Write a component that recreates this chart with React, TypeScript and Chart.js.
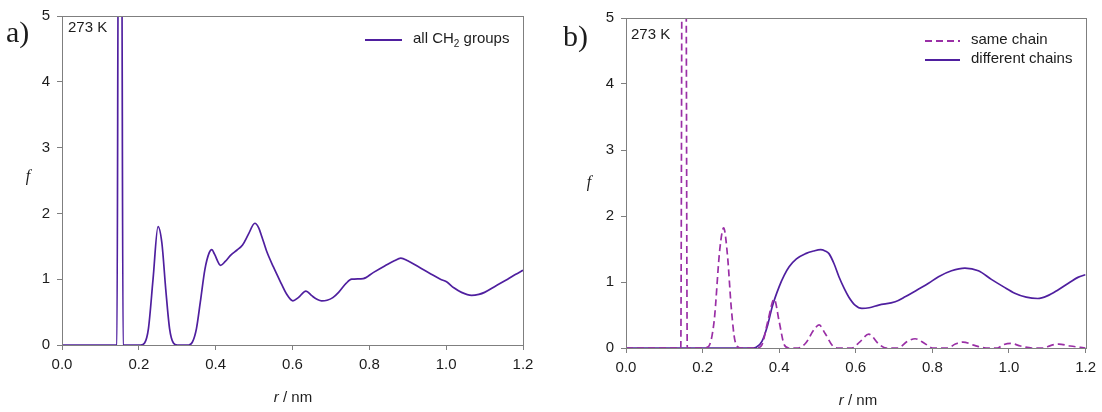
import React, { useEffect, useRef } from "react";
import { Chart, registerables } from "chart.js";

Chart.register(...registerables);

// ---- data -------------------------------------------------------------
// Panel a: all CH2 groups
const rAll = [
  0, 0.143, 0.147, 0.155, 0.159, 0.205, 0.215, 0.225, 0.237, 0.25, 0.26, 0.27, 0.28, 0.29, 0.3,
  0.33, 0.34, 0.35, 0.36, 0.372, 0.383, 0.39, 0.397, 0.413, 0.425, 0.44, 0.455, 0.47, 0.485,
  0.502, 0.512, 0.52, 0.533, 0.55, 0.567, 0.585, 0.601, 0.615, 0.635, 0.65, 0.665, 0.676, 0.69,
  0.705, 0.72, 0.74, 0.754, 0.784, 0.81, 0.84, 0.865, 0.882, 0.9, 0.93, 0.96, 0.985, 1.001,
  1.02, 1.04, 1.066, 1.085, 1.1, 1.13, 1.16, 1.18, 1.2,
];
const fAll = [
  0, 0, 7, 7, 0, 0, 0.03, 0.25, 1.0, 1.8, 1.55, 0.85, 0.25, 0.03, 0,
  0, 0.05, 0.25, 0.65, 1.15, 1.4, 1.45, 1.38, 1.21, 1.27, 1.37, 1.44, 1.52, 1.68,
  1.85, 1.78, 1.65, 1.42, 1.19, 0.98, 0.77, 0.67, 0.72, 0.82, 0.75, 0.69, 0.67, 0.68,
  0.72, 0.8, 0.94, 1.0, 1.01, 1.1, 1.2, 1.28, 1.32, 1.28, 1.18, 1.08, 1.0, 0.96,
  0.87, 0.8, 0.755, 0.77, 0.8, 0.9, 1.0, 1.07, 1.135,
];

// Panel b: pairs on the same chain
const rSame = [
  0, 0.143, 0.147, 0.156, 0.16, 0.2, 0.215, 0.23, 0.245, 0.255, 0.265, 0.275, 0.285, 0.3,
  0.34, 0.355, 0.37, 0.387, 0.4, 0.413, 0.425, 0.45, 0.47, 0.49, 0.504, 0.52, 0.54, 0.555,
  0.59, 0.61, 0.634, 0.66, 0.68, 0.71, 0.735, 0.755, 0.78, 0.8, 0.84, 0.86, 0.88, 0.91, 0.94,
  0.97, 0.985, 1.005, 1.03, 1.06, 1.09, 1.11, 1.13, 1.16, 1.2,
];
const fSame = [
  0, 0, 7, 7, 0, 0, 0.02, 0.4, 1.5, 1.82, 1.4, 0.6, 0.1, 0,
  0, 0.05, 0.4, 0.74, 0.4, 0.05, 0, 0, 0.08, 0.27, 0.35, 0.22, 0.03, 0,
  0, 0.09, 0.21, 0.06, 0, 0, 0.1, 0.14, 0.07, 0, 0, 0.06, 0.09, 0.04, 0,
  0, 0.05, 0.07, 0.03, 0, 0, 0.04, 0.06, 0.03, 0,
];

// Panel b: pairs on different chains
const rDiff = [
  0, 0.33, 0.34, 0.355, 0.37, 0.382, 0.4, 0.413, 0.426, 0.445, 0.469, 0.49, 0.508, 0.52, 0.53,
  0.543, 0.556, 0.57, 0.582, 0.598, 0.616, 0.635, 0.66, 0.703, 0.73, 0.76, 0.79, 0.816, 0.85,
  0.885, 0.92, 0.954, 0.985, 1.015, 1.045, 1.075, 1.1, 1.128, 1.16, 1.18, 1.2,
];
const fDiff = [
  0, 0, 0.01, 0.1, 0.35, 0.63, 0.93, 1.1, 1.23, 1.35, 1.43, 1.47, 1.49, 1.47, 1.43,
  1.28, 1.08, 0.9, 0.77, 0.65, 0.6, 0.61, 0.65, 0.7, 0.78, 0.88, 0.98, 1.08, 1.17,
  1.21, 1.17, 1.04, 0.93, 0.83, 0.77, 0.75, 0.79, 0.88, 1.0, 1.07, 1.11,
];

const xTickValues = [0, 0.2, 0.4, 0.6, 0.8, 1.0, 1.2];
const yTickValues = [0, 1, 2, 3, 4, 5];

// ---- styling ----------------------------------------------------------
const SOLID = "#4f1f9f";
const DASHED = "#9a2fa6";
const AXIS = "#7f7f7f";
const TEXT = "#1c1c1c";
const SANS = '"Liberation Sans", Arial, sans-serif';
const SERIF = '"Liberation Serif", "Times New Roman", serif';

const toPoints = (xs: number[], ys: number[]) => xs.map((x, i) => ({ x, y: ys[i] }));

type LegendItem = { text: string; sub?: string; tail?: string; color: string; dash: number[] };

type PanelSpec = {
  width: number;
  area: { left: number; right: number; top: number; bottom: number };
  datasets: any[];
  tag: string;
  tagPos: [number, number];
  tempPos: [number, number];
  legend: LegendItem[];
  legendPos: [number, number, number]; // line start x, line end x, first row y
  fPos: [number, number];
  rPos: [number, number];
};

function decorPlugin(spec: PanelSpec) {
  return {
    id: "decor",
    afterDraw(chart: any) {
      const ctx: CanvasRenderingContext2D = chart.ctx;
      const a = chart.chartArea;
      ctx.save();
      // frame around the plot area
      ctx.strokeStyle = AXIS;
      ctx.lineWidth = 1;
      ctx.strokeRect(Math.round(a.left) + 0.5, Math.round(a.top) + 0.5, Math.round(a.right - a.left), Math.round(a.bottom - a.top));

      ctx.fillStyle = TEXT;
      ctx.textBaseline = "alphabetic";
      // panel tag
      ctx.font = `30px ${SERIF}`;
      ctx.textAlign = "left";
      ctx.fillText(spec.tag, spec.tagPos[0], spec.tagPos[1]);

      // temperature label
      ctx.font = `15px ${SANS}`;
      ctx.textBaseline = "middle";
      ctx.fillText("273 K", spec.tempPos[0], spec.tempPos[1]);

      // axis titles
      ctx.font = `italic 16px ${SERIF}`;
      ctx.textAlign = "center";
      ctx.fillText("f", spec.fPos[0], spec.fPos[1]);

      ctx.font = `italic 15px ${SANS}`;
      const rW = ctx.measureText("r").width;
      ctx.font = `15px ${SANS}`;
      const restW = ctx.measureText(" / nm").width;
      const x0 = spec.rPos[0] - (rW + restW) / 2;
      ctx.textAlign = "left";
      ctx.font = `italic 15px ${SANS}`;
      ctx.fillText("r", x0, spec.rPos[1]);
      ctx.font = `15px ${SANS}`;
      ctx.fillText(" / nm", x0 + rW, spec.rPos[1]);

      // legend
      const [lx0, lx1, ly] = spec.legendPos;
      spec.legend.forEach((it, i) => {
        const y = ly + i * 19;
        ctx.strokeStyle = it.color;
        ctx.lineWidth = 1.8;
        ctx.setLineDash(it.dash);
        ctx.beginPath();
        ctx.moveTo(lx0, y);
        ctx.lineTo(lx1, y);
        ctx.stroke();
        ctx.setLineDash([]);
        ctx.fillStyle = TEXT;
        ctx.font = `15px ${SANS}`;
        ctx.textAlign = "left";
        ctx.textBaseline = "middle";
        let tx = lx1 + 11;
        ctx.fillText(it.text, tx, y - 1);
        tx += ctx.measureText(it.text).width;
        if (it.sub) {
          ctx.font = `10px ${SANS}`;
          ctx.fillText(it.sub, tx, y + 4);
          tx += ctx.measureText(it.sub).width;
          ctx.font = `15px ${SANS}`;
        }
        if (it.tail) ctx.fillText(it.tail, tx, y - 1);
      });
      ctx.restore();
    },
  };
}

function buildConfig(spec: PanelSpec): any {
  const { area, width } = spec;
  const height = 412;
  const gridOpts = {
    display: true,
    drawOnChartArea: false,
    drawTicks: true,
    tickLength: 5,
    color: AXIS,
    lineWidth: 1,
  };
  const tickFont = { family: SANS, size: 15 };
  return {
    type: "line",
    data: { datasets: spec.datasets },
    options: {
      animation: false,
      responsive: false,
      devicePixelRatio: 1,
      layout: { padding: { left: 0, top: area.top, right: width - area.right, bottom: 0 } },
      plugins: { legend: { display: false }, tooltip: { enabled: false } },
      elements: { point: { radius: 0 } },
      scales: {
        x: {
          type: "linear",
          min: 0,
          max: 1.2,
          afterBuildTicks: (s: any) => {
            s.ticks = xTickValues.map((v) => ({ value: v }));
          },
          afterFit: (s: any) => {
            s.height = height - area.bottom;
          },
          ticks: {
            color: TEXT,
            font: tickFont,
            padding: 6,
            maxRotation: 0,
            autoSkip: false,
            callback: (v: any) => Number(v).toFixed(1),
          },
          grid: gridOpts,
          border: { display: true, color: AXIS, width: 1 },
        },
        y: {
          type: "linear",
          min: 0,
          max: 5,
          afterBuildTicks: (s: any) => {
            s.ticks = yTickValues.map((v) => ({ value: v }));
          },
          afterFit: (s: any) => {
            s.width = area.left;
          },
          ticks: { color: TEXT, font: tickFont, padding: 7, autoSkip: false },
          grid: gridOpts,
          border: { display: true, color: AXIS, width: 1 },
        },
      },
    },
    plugins: [decorPlugin(spec)],
  };
}

const lineStyle = {
  borderWidth: 1.7,
  pointRadius: 0,
  cubicInterpolationMode: "monotone",
  fill: false,
};

const panelA: PanelSpec = {
  width: 560,
  area: { left: 62, right: 523, top: 13, bottom: 345 },
  datasets: [
    { ...lineStyle, label: "all CH2 groups", data: toPoints(rAll, fAll), borderColor: SOLID },
  ],
  tag: "a)",
  tagPos: [6, 42],
  tempPos: [68, 28],
  legend: [{ text: "all CH", sub: "2", tail: " groups", color: SOLID, dash: [] }],
  legendPos: [365, 402, 40],
  fPos: [28, 177],
  rPos: [293, 398],
};

const panelB: PanelSpec = {
  width: 542,
  area: { left: 66, right: 528, top: 18, bottom: 348 },
  datasets: [
    {
      ...lineStyle,
      label: "same chain",
      data: toPoints(rSame, fSame),
      borderColor: DASHED,
      borderDash: [7, 4],
    },
    { ...lineStyle, label: "different chains", data: toPoints(rDiff, fDiff), borderColor: SOLID },
  ],
  tag: "b)",
  tagPos: [3, 46],
  tempPos: [71, 35],
  legend: [
    { text: "same chain", color: DASHED, dash: [7, 4] },
    { text: "different chains", color: SOLID, dash: [] },
  ],
  legendPos: [365, 400, 41],
  fPos: [29, 183],
  rPos: [298, 401],
};

function Panel({ spec, left }: { spec: PanelSpec; left: number }) {
  const ref = useRef<HTMLCanvasElement | null>(null);
  useEffect(() => {
    if (!ref.current) return;
    const chart = new Chart(ref.current, buildConfig(spec));
    return () => chart.destroy();
  }, [spec]);
  return (
    <canvas
      ref={ref}
      width={spec.width}
      height={412}
      style={{ position: "absolute", left, top: 0, width: spec.width, height: 412 }}
    />
  );
}

export default function App() {
  return (
    <div
      style={{
        position: "absolute",
        left: 0,
        top: 0,
        width: 1102,
        height: 412,
        background: "#ffffff",
        overflow: "hidden",
      }}
    >
      <Panel spec={panelA} left={0} />
      <Panel spec={panelB} left={560} />
    </div>
  );
}
